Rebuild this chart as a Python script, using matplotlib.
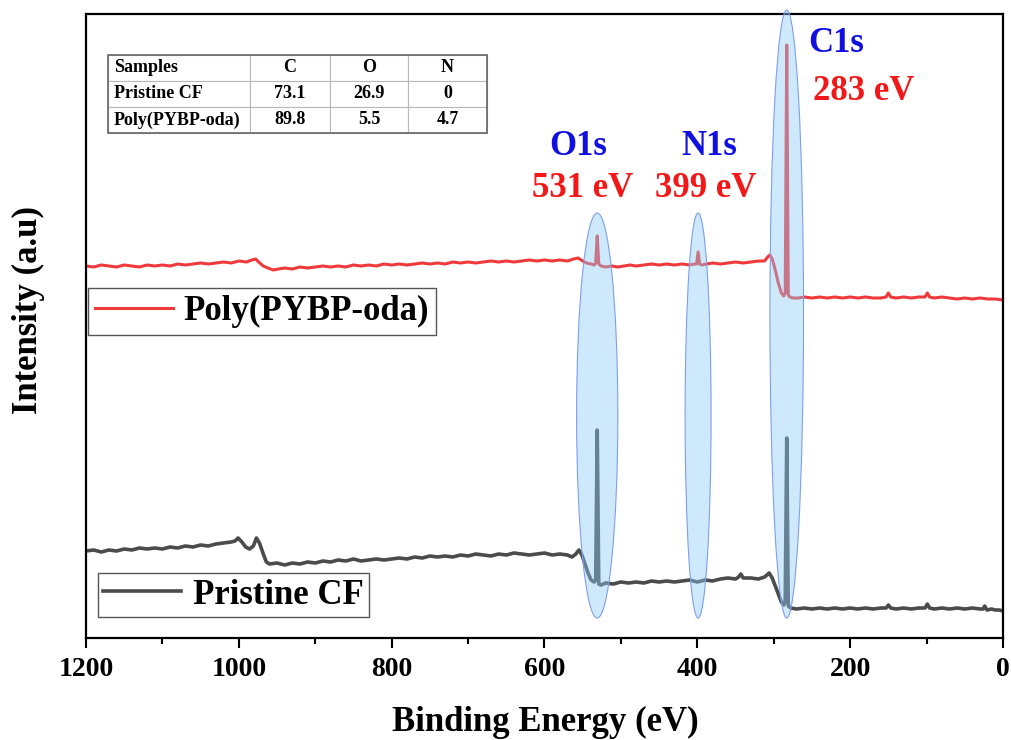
import matplotlib
matplotlib.use("Agg")
import matplotlib.pyplot as plt
from matplotlib.patches import Ellipse, Rectangle
from matplotlib.ticker import MultipleLocator

W, H = 1012, 740

# XPS survey spectra (stacked, arbitrary units)
pristine_be = [1200, 1190, 1180, 1170, 1160, 1150, 1140, 1130, 1120, 1110, 1100, 1090, 1080, 1070, 1060,
               1050, 1040, 1030, 1020, 1010, 1005, 1001, 996, 991, 986, 981, 977, 973, 968, 964, 960,
               950, 940, 930, 920, 910, 900, 890, 880, 870, 860, 850, 840, 830, 820, 810, 800, 790,
               780, 770, 760, 750, 740, 730, 720, 710, 700, 690, 680, 670, 660, 650, 640, 630, 620,
               610, 600, 590, 580, 570, 564, 559, 555, 551, 547, 543, 539, 535, 533, 531, 529, 526,
               520, 510, 500, 490, 480, 470, 460, 450, 440, 430, 420, 410, 400, 390, 380, 370, 360,
               350, 346, 343, 340, 330, 320, 312, 306, 302, 298, 294, 290, 287, 285, 283, 281, 278,
               270, 260, 250, 240, 230, 220, 210, 200, 190, 180, 170, 160, 153, 150, 147, 140, 130,
               120, 110, 102, 99, 96, 90, 80, 70, 60, 50, 40, 30, 26, 24, 21, 15, 10, 5, 0]
pristine_int = [87, 88, 86, 88, 87, 89, 88, 90, 89, 90, 89, 91, 90, 92, 91,
                93, 92, 94, 95, 96, 97, 100, 96, 91, 89, 92, 100, 95, 84, 76, 74,
                75, 73, 75, 74, 76, 75, 77, 76, 78, 77, 79, 77, 78, 79, 78, 79, 80,
                79, 81, 80, 82, 81, 82, 81, 83, 82, 84, 83, 82, 84, 83, 85, 84, 83,
                84, 85, 83, 84, 83, 81, 84, 88, 83, 74, 65, 58, 56, 58, 208, 54, 53,
                55, 54, 56, 55, 56, 55, 57, 56, 57, 56, 57, 58, 56, 58, 57, 59, 60,
                59, 61, 64, 60, 60, 59, 61, 65, 60, 52, 44, 36, 33, 36, 200, 32, 30,
                29, 30, 29, 30, 29, 30, 29, 30, 29, 30, 29, 30, 30, 33, 30, 29, 30,
                29, 30, 30, 34, 30, 29, 30, 29, 30, 29, 30, 29, 29, 32, 28, 29, 28, 28, 27]

poly_be = [1200, 1190, 1180, 1170, 1160, 1150, 1140, 1130, 1120, 1110, 1100, 1090, 1080, 1070, 1060,
           1050, 1040, 1030, 1020, 1010, 1000, 990, 983, 978, 974, 968, 962, 955, 948, 940, 930,
           920, 910, 900, 890, 880, 870, 860, 850, 840, 830, 820, 810, 800, 790, 780, 770, 760,
           750, 740, 730, 720, 710, 700, 690, 680, 670, 660, 650, 640, 630, 620, 610, 600, 590,
           580, 570, 562, 556, 550, 545, 539, 535, 533, 531, 529, 526, 520, 512, 504, 496, 488,
           480, 470, 460, 450, 440, 430, 420, 410, 404, 401, 399, 397, 394, 388, 380, 370, 360,
           350, 340, 330, 320, 312, 308, 305, 302, 298, 294, 290, 287, 285, 283, 281, 279, 275,
           268, 260, 250, 240, 230, 220, 210, 200, 190, 180, 170, 160, 153, 150, 147, 140, 130,
           120, 110, 102, 99, 96, 90, 80, 70, 60, 50, 40, 30, 20, 10, 0]
poly_int = [372, 371, 373, 372, 371, 373, 372, 371, 373, 372, 373, 372, 374, 373, 374,
            375, 374, 375, 376, 375, 377, 376, 378, 379, 376, 372, 370, 368, 369, 370, 369,
            371, 370, 371, 372, 371, 372, 371, 373, 372, 373, 372, 374, 373, 374, 373, 374, 375,
            374, 375, 374, 376, 375, 376, 375, 376, 377, 376, 377, 376, 377, 378, 377, 378, 377,
            378, 377, 379, 380, 377, 375, 374, 373, 375, 402, 374, 372, 371, 372, 371, 372, 373,
            372, 373, 374, 373, 374, 373, 374, 373, 374, 374, 386, 374, 373, 374, 375, 374, 375,
            376, 375, 376, 377, 377, 381, 383, 379, 368, 355, 345, 342, 345, 593, 343, 341, 340,
            340, 341, 340, 341, 340, 341, 340, 341, 340, 341, 340, 340, 341, 345, 341, 340, 341,
            340, 341, 341, 345, 341, 340, 341, 340, 339, 340, 339, 340, 339, 339, 338]

# highlighted core-level regions
peak_names = ["O1s", "N1s", "C1s"]
peak_be = [531, 399, 283]
peak_width = [54, 34, 44]
peak_low = [20, 20, 20]
peak_high = [425, 425, 628]

# atomic composition table (at.%)
table_cols = ["Samples", "C", "O", "N"]
table_rows = [["Pristine CF", "73.1", "26.9", "0"],
              ["Poly(PYBP-oda)", "89.8", "5.5", "4.7"]]

plt.rcParams["font.family"] = ["Liberation Serif", "DejaVu Serif"]
plt.rcParams["font.weight"] = "bold"

fig = plt.figure(figsize=(W / 100, H / 100), dpi=100)
ax = fig.add_axes([86 / W, 1 - 638 / H, 917 / W, 624 / H])

line_p, = ax.plot(pristine_be, pristine_int, color="#4b4b4b", lw=2.6, label="Pristine CF", zorder=2)
line_r, = ax.plot(poly_be, poly_int, color="#f0393b", lw=2.2, label="Poly(PYBP-oda)", zorder=2)

for name, c, w, lo, hi in zip(peak_names, peak_be, peak_width, peak_low, peak_high):
    ell = Ellipse((c, (lo + hi) / 2), w, hi - lo, facecolor=(0.55, 0.80, 0.97, 0.42),
                  edgecolor="#7d9ff0", lw=0.8, zorder=3, clip_on=False)
    ax.add_patch(ell)

ax.set_xlim(1200, 0)
ax.set_ylim(0, 624)
ax.set_xticks(range(1200, -1, -200))
ax.xaxis.set_minor_locator(MultipleLocator(100))
ax.set_yticks([])
ax.tick_params(axis="x", which="major", direction="out", length=7, width=1.5, labelsize=20, pad=7)
ax.tick_params(axis="x", which="minor", direction="out", length=4.5, width=1.5)
for sp in ax.spines.values():
    sp.set_linewidth(1.6)

fig.text(545 / W, 1 - 731 / H, "Binding Energy (eV)", fontsize=25, ha="center", va="baseline")
fig.text(28 / W, 1 - 310 / H, "Intensity (a.u)", fontsize=25, rotation=90, ha="center", va="center")

# peak labels
label_pos = {"O1s": (578, 155, 583, 197), "N1s": (709, 155, 706, 197), "C1s": (836, 52, 864, 100)}
for name, c in zip(peak_names, peak_be):
    nx, ny, ex, ey = label_pos[name]
    fig.text(nx / W, 1 - ny / H, name, color="#1010e0", fontsize=25, ha="center", va="baseline")
    fig.text(ex / W, 1 - ey / H, f"{c} eV", color="#f01818", fontsize=25, ha="center", va="baseline")

leg1 = ax.legend(handles=[line_r], loc="lower left", bbox_to_anchor=(0.002, 0.486), fontsize=25,
                 fancybox=False, edgecolor="#555555", framealpha=1, borderaxespad=0,
                 borderpad=0.2, handlelength=2.25, handletextpad=0.3)
leg1.get_frame().set_linewidth(1.0)
ax.add_artist(leg1)
leg2 = ax.legend(handles=[line_p], loc="lower left", bbox_to_anchor=(0.013, 0.034), fontsize=25,
                 fancybox=False, edgecolor="#555555", framealpha=1, borderaxespad=0,
                 borderpad=0.15, handlelength=2.25, handletextpad=0.35)
leg2.get_frame().set_linewidth(1.0)

tb = [22 / 917, (638 - 133) / 624, 379 / 917, 78 / 624]
tbl = ax.table(cellText=table_rows, colLabels=table_cols, cellLoc="center",
               colWidths=[142, 80, 78, 79], bbox=tb)
tbl.auto_set_font_size(False)
tbl.set_fontsize(13)
for (r, col), cell in tbl.get_celld().items():
    cell.set_edgecolor("#b8b8b8")
    cell.set_linewidth(0.8)
    cell.get_text().set_fontweight("bold")
    if col == 0:
        cell._loc = "left"
        cell.get_text().set_horizontalalignment("left")
        cell.PAD = 0.04
ax.add_patch(Rectangle((tb[0], tb[1]), tb[2], tb[3], transform=ax.transAxes, fill=False,
                       edgecolor="#666666", lw=1.2, zorder=5))

fig.savefig("out.png", dpi=100)
